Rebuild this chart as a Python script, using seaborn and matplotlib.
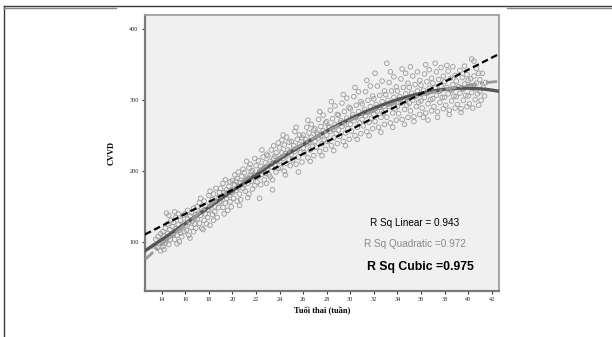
import matplotlib
matplotlib.use("Agg")
import matplotlib.pyplot as plt
from matplotlib.lines import Line2D
import seaborn as sns
import pandas as pd

# ---- data ----
pts_13_18 = [
    (13.3, 95), (13.5, 104), (13.6, 92), (13.7, 108), (13.8, 99), (13.9, 112), (13.9, 88),
    (14.0, 101), (14.1, 115), (14.1, 94), (14.2, 109), (14.3, 120), (14.3, 99), (14.4, 106),
    (14.5, 126), (14.5, 112), (14.6, 97), (14.7, 118), (14.7, 104), (14.8, 131), (14.9, 110),
    (14.9, 122), (14.2, 90), (14.6, 108), (14.4, 141), (14.6, 138),
    (15.0, 112), (15.0, 128), (15.1, 104), (15.2, 135), (15.2, 119), (15.3, 110), (15.4, 140),
    (15.4, 125), (15.5, 101), (15.5, 117), (15.6, 131), (15.7, 122), (15.7, 108), (15.8, 138),
    (15.9, 115), (15.9, 127), (15.3, 98), (15.6, 113), (15.1, 143),
    (16.0, 124), (16.0, 140), (16.1, 117), (16.2, 133), (16.2, 145), (16.3, 110), (16.3, 128),
    (16.4, 137), (16.5, 121), (16.5, 142), (16.6, 130), (16.7, 115), (16.7, 148), (16.8, 126),
    (16.9, 139), (16.9, 120), (16.4, 106), (16.8, 134),
    (17.0, 133), (17.0, 150), (17.1, 141), (17.2, 127), (17.2, 156), (17.3, 138), (17.4, 147),
    (17.4, 120), (17.5, 144), (17.6, 131), (17.6, 158), (17.7, 140), (17.8, 126), (17.8, 151),
    (17.9, 146), (17.9, 135), (17.5, 118), (17.3, 162),
    (18.0, 145), (18.0, 166), (18.1, 172), (18.1, 124), (18.2, 152), (18.3, 160), (18.3, 139),
    (18.4, 168), (18.5, 150), (18.5, 143), (18.6, 176), (18.6, 158), (18.7, 135), (18.8, 163),
    (18.8, 149), (18.9, 170), (18.9, 156), (18.4, 131),
]
pts_19_24 = [
    (19.0, 158), (19.0, 176), (19.1, 165), (19.2, 149), (19.2, 183), (19.3, 170), (19.4, 155),
    (19.4, 188), (19.5, 162), (19.5, 174), (19.6, 145), (19.7, 179), (19.7, 166), (19.8, 157),
    (19.8, 185), (19.9, 171), (19.9, 150), (19.3, 140),
    (20.0, 170), (20.0, 187), (20.1, 162), (20.2, 181), (20.2, 195), (20.3, 173), (20.4, 158),
    (20.4, 190), (20.5, 177), (20.5, 199), (20.6, 168), (20.7, 184), (20.7, 160), (20.8, 193),
    (20.9, 176), (20.9, 203), (20.3, 186), (20.6, 152),
    (21.0, 181), (21.0, 198), (21.1, 172), (21.2, 214), (21.2, 190), (21.3, 183), (21.4, 205),
    (21.4, 168), (21.5, 194), (21.5, 210), (21.6, 186), (21.7, 175), (21.7, 201), (21.8, 192),
    (21.9, 218), (21.9, 180), (21.3, 163), (21.6, 199),
    (22.0, 192), (22.0, 208), (22.1, 185), (22.2, 215), (22.3, 162), (22.3, 199), (22.4, 207),
    (22.4, 181), (22.5, 196), (22.6, 220), (22.6, 203), (22.7, 188), (22.8, 212), (22.8, 197),
    (22.9, 224), (22.9, 183), (22.5, 230), (22.2, 193),
    (23.0, 203), (23.0, 222), (23.1, 195), (23.2, 214), (23.3, 230), (23.3, 206), (23.4, 188),
    (23.5, 218), (23.5, 236), (23.6, 209), (23.7, 199), (23.7, 226), (23.8, 215), (23.9, 240),
    (23.9, 204), (23.4, 174), (23.6, 221), (23.2, 192),
    (24.0, 214), (24.0, 233), (24.1, 205), (24.2, 226), (24.2, 244), (24.3, 218), (24.4, 200),
    (24.4, 237), (24.5, 225), (24.6, 211), (24.6, 248), (24.7, 230), (24.8, 217), (24.8, 241),
    (24.9, 208), (24.9, 228), (24.5, 195), (24.3, 251),
]
pts_25_30 = [
    (25.0, 224), (25.0, 242), (25.1, 216), (25.2, 236), (25.3, 256), (25.3, 228), (25.4, 210),
    (25.5, 245), (25.5, 232), (25.6, 220), (25.7, 251), (25.7, 238), (25.8, 226), (25.9, 213),
    (25.9, 247), (25.4, 262), (25.6, 199), (25.2, 231),
    (26.0, 233), (26.0, 251), (26.1, 226), (26.2, 245), (26.3, 262), (26.3, 238), (26.4, 219),
    (26.5, 254), (26.5, 241), (26.6, 230), (26.7, 266), (26.7, 248), (26.8, 235), (26.9, 222),
    (26.9, 258), (26.4, 272), (26.6, 214), (26.2, 240),
    (27.0, 242), (27.0, 260), (27.1, 234), (27.2, 254), (27.3, 273), (27.3, 247), (27.4, 228),
    (27.5, 263), (27.5, 250), (27.6, 239), (27.7, 279), (27.7, 257), (27.8, 244), (27.9, 231),
    (27.9, 268), (27.4, 284), (27.6, 222), (27.2, 252),
    (28.0, 251), (28.0, 270), (28.1, 242), (28.2, 263), (28.3, 286), (28.3, 256), (28.4, 236),
    (28.5, 274), (28.5, 259), (28.6, 247), (28.7, 292), (28.7, 266), (28.8, 253), (28.9, 239),
    (28.9, 280), (28.4, 298), (28.6, 229), (28.2, 261),
    (29.0, 258), (29.0, 279), (29.1, 249), (29.2, 271), (29.3, 296), (29.3, 263), (29.4, 242),
    (29.5, 284), (29.5, 267), (29.6, 254), (29.7, 303), (29.7, 275), (29.8, 260), (29.9, 245),
    (29.9, 290), (29.4, 308), (29.6, 236), (29.2, 268),
    (30.0, 266), (30.0, 288), (30.1, 257), (30.2, 280), (30.3, 305), (30.3, 271), (30.4, 250),
    (30.5, 293), (30.5, 276), (30.6, 262), (30.7, 312), (30.7, 284), (30.8, 268), (30.9, 253),
    (30.9, 298), (30.4, 318), (30.6, 245), (30.2, 276),
]
pts_31_36 = [
    (31.0, 273), (31.0, 295), (31.1, 264), (31.2, 287), (31.3, 312), (31.3, 278), (31.4, 256),
    (31.5, 300), (31.5, 283), (31.6, 269), (31.7, 320), (31.7, 291), (31.8, 275), (31.9, 260),
    (31.9, 306), (31.4, 328), (31.6, 250), (31.2, 283),
    (32.0, 280), (32.0, 302), (32.1, 270), (32.2, 294), (32.3, 320), (32.3, 285), (32.4, 262),
    (32.5, 307), (32.5, 290), (32.6, 276), (32.7, 327), (32.7, 298), (32.8, 282), (32.9, 266),
    (32.9, 313), (32.1, 338), (32.6, 255), (32.2, 290),
    (33.0, 286), (33.0, 308), (33.1, 352), (33.1, 276), (33.2, 300), (33.3, 325), (33.3, 291),
    (33.4, 268), (33.5, 313), (33.5, 296), (33.6, 282), (33.7, 333), (33.7, 304), (33.8, 288),
    (33.9, 272), (33.9, 319), (33.4, 340), (33.6, 262),
    (34.0, 291), (34.0, 313), (34.1, 281), (34.2, 305), (34.3, 330), (34.3, 296), (34.4, 273),
    (34.5, 318), (34.5, 301), (34.6, 287), (34.7, 338), (34.7, 309), (34.8, 293), (34.9, 276),
    (34.9, 324), (34.4, 344), (34.6, 266), (34.2, 301),
    (35.0, 296), (35.0, 318), (35.1, 347), (35.1, 285), (35.2, 310), (35.3, 334), (35.3, 300),
    (35.4, 277), (35.5, 322), (35.5, 306), (35.6, 291), (35.7, 340), (35.7, 313), (35.8, 297),
    (35.9, 280), (35.9, 328), (35.4, 270), (35.6, 306),
    (36.0, 299), (36.0, 321), (36.1, 289), (36.2, 314), (36.2, 276), (36.3, 337), (36.3, 304),
    (36.4, 282), (36.5, 326), (36.5, 310), (36.6, 295), (36.7, 343), (36.7, 317), (36.8, 301),
    (36.9, 285), (36.9, 331), (36.4, 350), (36.6, 272),
]
pts_37_41 = [
    (37.0, 302), (37.0, 324), (37.1, 291), (37.2, 317), (37.3, 340), (37.3, 307), (37.4, 284),
    (37.5, 329), (37.5, 313), (37.6, 297), (37.7, 346), (37.7, 320), (37.8, 304), (37.9, 288),
    (37.9, 334), (37.4, 276), (37.6, 313), (37.2, 352),
    (38.0, 304), (38.0, 326), (38.1, 293), (38.2, 349), (38.2, 318), (38.3, 341), (38.3, 309),
    (38.4, 286), (38.5, 331), (38.5, 315), (38.6, 299), (38.7, 347), (38.7, 322), (38.8, 306),
    (38.9, 289), (38.9, 335), (38.4, 280), (38.6, 314),
    (39.0, 305), (39.0, 327), (39.1, 294), (39.2, 319), (39.3, 342), (39.3, 310), (39.4, 288),
    (39.5, 332), (39.5, 316), (39.6, 300), (39.7, 348), (39.7, 323), (39.8, 307), (39.9, 291),
    (39.9, 336), (39.4, 283), (39.6, 316),
    (40.0, 306), (40.0, 328), (40.1, 295), (40.2, 320), (40.3, 358), (40.3, 311), (40.4, 289),
    (40.5, 334), (40.5, 317), (40.6, 301), (40.7, 345), (40.7, 324), (40.8, 309), (40.9, 293),
    (40.9, 338), (40.5, 355), (40.2, 330),
    (41.0, 312), (41.0, 329), (41.1, 300), (41.2, 338), (41.3, 318), (41.4, 306), (41.5, 325),
]
x_ticks = [14, 16, 18, 20, 22, 24, 26, 28, 30, 32, 34, 36, 38, 40, 42]
y_ticks = [100, 200, 300, 400]
r2_labels = ["R Sq Linear = 0.943", "R Sq Quadratic =0.972", "R Sq Cubic =0.975"]
x_label = "Tuổi thai (tuần)"
y_label = "CVVD"

all_pts = pts_13_18 + pts_19_24 + pts_25_30 + pts_31_36 + pts_37_41
df = pd.DataFrame(all_pts, columns=["ga", "cvvd"])

# ---- figure ----
W, H = 612, 337
fig = plt.figure(figsize=(W / 100, H / 100), dpi=100)
fig.patch.set_facecolor("white")

# page / table frame lines
def fx(px):
    return px / W

def fy(py):
    return 1 - py / H

fig.add_artist(Line2D([fx(4), fx(612)], [fy(5.5), fy(5.5)], color="#3a3a3a", lw=1.0))
fig.add_artist(Line2D([fx(4), fx(4)], [fy(5.5), fy(337)], color="#3a3a3a", lw=1.0))
fig.add_artist(Line2D([fx(4), fx(116)], [fy(7.5), fy(7.5)], color="#8a8a8a", lw=1.0))
fig.add_artist(Line2D([fx(507), fx(612)], [fy(7.5), fy(7.5)], color="#8a8a8a", lw=1.0))

ax = fig.add_axes([145 / W, 1 - 291 / H, 354 / W, 276 / H])
ax.set_facecolor("#f0f0f0")
xlim = (12.58, 42.62)
ylim = (31.5, 420)
ax.set_xlim(*xlim)
ax.set_ylim(*ylim)

sns.scatterplot(data=df, x="ga", y="cvvd", ax=ax, marker="o", s=11,
                facecolor="none", edgecolor="#9a9a9a", linewidth=0.6, zorder=2)
ax.set_xlim(*xlim)

sns.regplot(data=df, x="ga", y="cvvd", order=3, scatter=False, ci=None,
            truncate=False, ax=ax,
            line_kws=dict(color="#555555", lw=2.4, zorder=3))
ax.set_xlim(*xlim)
sns.regplot(data=df, x="ga", y="cvvd", order=2, scatter=False, ci=None,
            truncate=False, ax=ax,
            line_kws=dict(color="#9a9a9a", lw=2.0, zorder=4,
                          dashes=(4, 1.2, 1, 1.2)))
ax.set_xlim(*xlim)
sns.regplot(data=df, x="ga", y="cvvd", order=1, scatter=False, ci=None,
            truncate=False, ax=ax,
            line_kws=dict(color="black", lw=1.6, zorder=5, dashes=(3, 1.6)))
ax.set_xlim(*xlim)
ax.set_ylim(*ylim)

ax.set_xticks(x_ticks)
ax.set_xticklabels([str(t) for t in x_ticks])
ax.set_yticks(y_ticks)
ax.set_yticklabels([str(t) for t in y_ticks])
ax.tick_params(axis="both", direction="out", length=2.5, width=0.8,
               color="#333333", labelsize=4.5, labelcolor="#222222", pad=2)
for lab in ax.get_xticklabels() + ax.get_yticklabels():
    lab.set_family("Liberation Serif")
ax.grid(False)

for side in ["left", "bottom"]:
    ax.spines[side].set_color("#7a7a7a")
    ax.spines[side].set_linewidth(1.6)
for side in ["top", "right"]:
    ax.spines[side].set_color("#a0a0a0")
    ax.spines[side].set_linewidth(1.3)

ax.set_xlabel(x_label, family="Liberation Serif", fontweight="bold",
              fontsize=6, labelpad=3)
ax.set_ylabel(y_label, family="Liberation Serif", fontweight="bold",
              fontsize=6, labelpad=10)

ax.text(0.763, 0.2475, r2_labels[0], transform=ax.transAxes, ha="center",
        va="center", fontsize=7.2, color="black", family="Liberation Sans",
        fontweight="medium")
ax.text(0.763, 0.170, r2_labels[1], transform=ax.transAxes, ha="center",
        va="center", fontsize=7.2, color="#8a8a8a", family="Liberation Sans")
ax.text(0.777, 0.087, r2_labels[2], transform=ax.transAxes, ha="center",
        va="center", fontsize=8.8, color="black", family="Liberation Sans",
        fontweight="bold")

fig.savefig("out.png", dpi=100)
